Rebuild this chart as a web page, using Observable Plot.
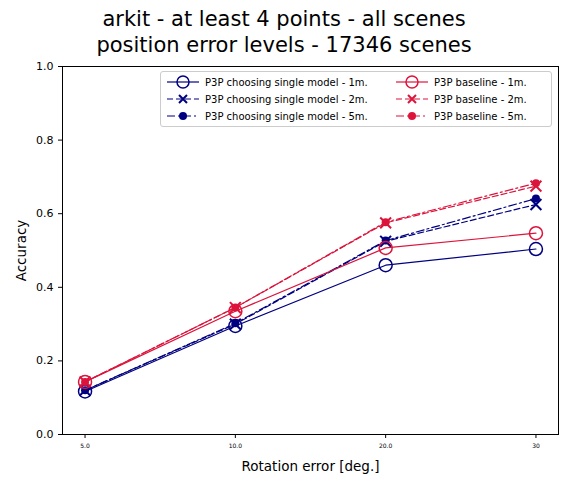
<!DOCTYPE html>
<html><head><meta charset="utf-8">
<script src="https://cdn.jsdelivr.net/npm/d3@7"></script>
<script src="https://cdn.jsdelivr.net/npm/@observablehq/plot@0.6"></script>
<style>
body{margin:0;background:#fff;font-family:"DejaVu Sans",sans-serif;}
#wrap{position:relative;width:568px;height:484px;}
#title{height:60px;text-align:center;font-size:21px;line-height:26px;padding-top:6px;box-sizing:border-box;color:#000;}
#legend{position:absolute;left:160px;top:71px;width:392px;border:1px solid #ccc;border-radius:3px;background:#fff;font-size:10px;display:grid;grid-template-columns:auto auto;column-gap:10px;row-gap:3px;padding:3px 6px;box-sizing:border-box;}
#legend div{display:flex;align-items:center;white-space:nowrap;}
#legend svg{margin-right:6px;}
</style></head>
<body><div id="wrap"><div id="title">arkit - at least 4 points - all scenes<br>position error levels - 17346 scenes</div><div id="chart"></div><div id="legend"></div></div>
<script>
const ticks = ["5.0", "10.0", "20.0", "30"];
const navy1 = [0.117, 0.295, 0.460, 0.504];
const navy2 = [0.120, 0.300, 0.525, 0.625];
const navy5 = [0.120, 0.302, 0.527, 0.641];
const red1 = [0.143, 0.335, 0.507, 0.547];
const red2 = [0.143, 0.345, 0.575, 0.675];
const red5 = [0.143, 0.345, 0.577, 0.683];

const NAVY = "#000080", RED = "#dc143c";
const series = [
  { name: "P3P choosing single model - 1m.", v: navy1, c: NAVY, dash: null, sym: "o" },
  { name: "P3P choosing single model - 2m.", v: navy2, c: NAVY, dash: "6 3", sym: "x" },
  { name: "P3P choosing single model - 5m.", v: navy5, c: NAVY, dash: "8 3 2 3", sym: "d" },
  { name: "P3P baseline - 1m.", v: red1, c: RED, dash: null, sym: "o" },
  { name: "P3P baseline - 2m.", v: red2, c: RED, dash: "6 3", sym: "x" },
  { name: "P3P baseline - 5m.", v: red5, c: RED, dash: "8 3 2 3", sym: "d" },
];

const marks = [];
for (const s of series) {
  const data = s.v.map((y, i) => ({ i, y }));
  marks.push(Plot.line(data, { x: "i", y: "y", stroke: s.c, strokeWidth: 1.2, strokeDasharray: s.dash }));
  if (s.sym === "o") marks.push(Plot.dot(data, { x: "i", y: "y", r: 6.5, stroke: s.c, strokeWidth: 1.5, fill: "none" }));
  else if (s.sym === "x") marks.push(Plot.dot(data, { x: "i", y: "y", symbol: "times", r: 5, stroke: s.c, strokeWidth: 2 }));
  else marks.push(Plot.dot(data, { x: "i", y: "y", r: 4, fill: s.c }));
}

const chart = Plot.plot({
  width: 568, height: 424,
  marginLeft: 62, marginRight: 10, marginTop: 6, marginBottom: 50,
  style: { fontFamily: "DejaVu Sans, sans-serif", fontSize: "10px", color: "#000" },
  x: { domain: [-0.15, 3.15], ticks: [0, 1, 2, 3], tickFormat: (d) => ticks[d], tickSize: 4,
       label: "Rotation error [deg.]", labelAnchor: "center", labelOffset: 36, labelArrow: "none" },
  y: { domain: [0, 1], ticks: [0, 0.2, 0.4, 0.6, 0.8, 1.0], tickFormat: (d) => d.toFixed(1), tickSize: 4,
       label: "Accuracy", labelAnchor: "center", labelOffset: 46, labelArrow: "none" },
  marks: [Plot.frame({ stroke: "#000" }), ...marks],
});
chart.querySelectorAll("[aria-label='x-axis tick label'] text").forEach(t => t.style.fontSize = "6px");
chart.querySelectorAll("[aria-label='x-axis label'] text, [aria-label='y-axis label'] text").forEach(t => t.style.fontSize = "13.5px");
chart.querySelectorAll("[aria-label='y-axis tick label'] text").forEach(t => t.style.fontSize = "11px");
document.getElementById("chart").appendChild(chart);

const leg = document.getElementById("legend");
const order = [0, 3, 1, 4, 2, 5];
for (const k of order) {
  const s = series[k];
  const d = document.createElement("div");
  let sym = "";
  if (s.sym === "o") sym = `<circle cx="16" cy="7" r="6" fill="none" stroke="${s.c}" stroke-width="1.5"/>`;
  else if (s.sym === "x") sym = `<path d="M12 3L20 11M12 11L20 3" stroke="${s.c}" stroke-width="2"/>`;
  else sym = `<circle cx="16" cy="7" r="4" fill="${s.c}"/>`;
  d.innerHTML = `<svg width="32" height="14"><line x1="0" y1="7" x2="32" y2="7" stroke="${s.c}" stroke-width="1.2" ${s.dash ? `stroke-dasharray="${s.dash}"` : ""}/>${sym}</svg>${s.name}`;
  leg.appendChild(d);
}
</script></body></html>
